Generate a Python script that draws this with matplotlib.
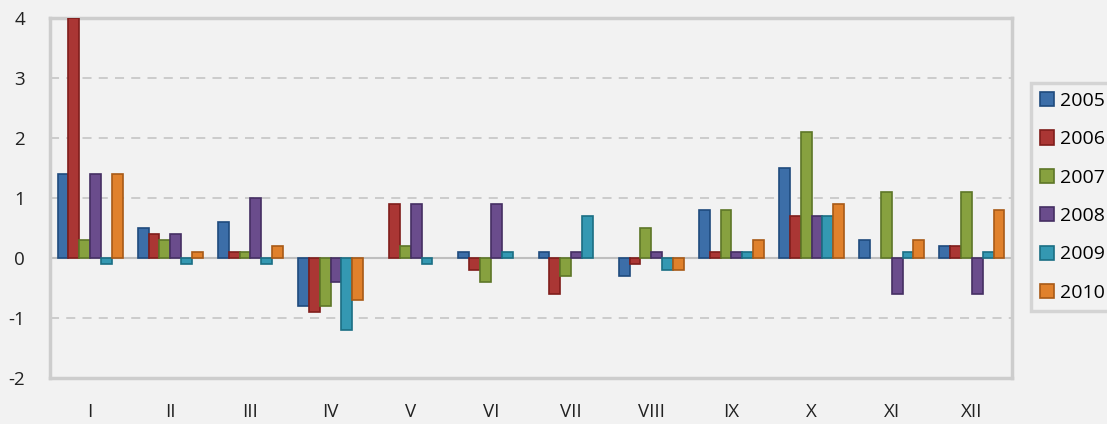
import numpy as np
import matplotlib.pyplot as plt

months = ['I', 'II', 'III', 'IV', 'V', 'VI', 'VII', 'VIII', 'IX', 'X', 'XI', 'XII']
years = ['2005', '2006', '2007', '2008', '2009', '2010']

v2005 = [1.4, 0.5, 0.6, -0.8, 0.0, 0.1, 0.1, -0.3, 0.8, 1.5, 0.3, 0.2]
v2006 = [4.0, 0.4, 0.1, -0.9, 0.9, -0.2, -0.6, -0.1, 0.1, 0.7, 0.0, 0.2]
v2007 = [0.3, 0.3, 0.1, -0.8, 0.2, -0.4, -0.3, 0.5, 0.8, 2.1, 1.1, 1.1]
v2008 = [1.4, 0.4, 1.0, -0.4, 0.9, 0.9, 0.1, 0.1, 0.1, 0.7, -0.6, -0.6]
v2009 = [-0.1, -0.1, -0.1, -1.2, -0.1, 0.1, 0.7, -0.2, 0.1, 0.7, 0.1, 0.1]
v2010 = [1.4, 0.1, 0.2, -0.7, 0.0, 0.0, 0.0, -0.2, 0.3, 0.9, 0.3, 0.8]

series = [v2005, v2006, v2007, v2008, v2009, v2010]
fills = ['#3c6ea8', '#aa3634', '#87a13f', '#6a4c8c', '#3498b2', '#e0812c']
edges = ['#1f4b7d', '#7f1d1b', '#5d7627', '#452f63', '#1b6f84', '#a85a17']

plt.rcParams['font.family'] = ['Open Sans', 'DejaVu Sans']
plt.rcParams['axes.unicode_minus'] = False
bg = '#f2f2f2'

fig = plt.figure(figsize=(11.07, 4.24), dpi=100, facecolor=bg)
ax = fig.add_axes([50 / 1107, 1 - 378 / 424, 962 / 1107, 360 / 424])
ax.set_facecolor(bg)

x = np.arange(len(months))
w = 0.135
for i, (vals, fc, ec, yr) in enumerate(zip(series, fills, edges, years)):
    bars = ax.bar(x + (i - 2.5) * w, vals, w, color=fc, edgecolor=ec, linewidth=1.2,
                  label=yr, zorder=3)
    # empty months draw nothing
    for b, v in zip(bars, vals):
        if v == 0:
            b.set_visible(False)

ax.set_xlim(-0.5, 11.5)
ax.set_ylim(-2, 4)
ax.set_yticks([-2, -1, 0, 1, 2, 3, 4])
ax.set_xticks(x)
ax.set_xticklabels(months)
for yv in [-1, 1, 2, 3]:
    ax.axhline(yv, color='#c8c8c8', linestyle=(0, (5, 4)), linewidth=1.3, zorder=1)
ax.axhline(0, color='#bfbfbf', linewidth=1.5, zorder=2)

ax.tick_params(length=0, labelsize=13.5, colors='#222222')
ax.tick_params(axis='x', pad=18)
ax.tick_params(axis='y', pad=18)
for s in ax.spines.values():
    s.set_color('#cdcdcd')
    s.set_linewidth(2.5)

leg = fig.legend(loc='upper left', bbox_to_anchor=(1031 / 1107, 1 - 83 / 424),
                 frameon=True, fontsize=14, handlelength=0.75, handleheight=0.75,
                 handletextpad=0.3, labelspacing=1.05, borderpad=0.45,
                 borderaxespad=0, fancybox=False)
leg.get_frame().set_facecolor(bg)
leg.get_frame().set_edgecolor('#cdcdcd')
leg.get_frame().set_linewidth(2.5)

fig.savefig('out.png', dpi=100, facecolor=bg)
